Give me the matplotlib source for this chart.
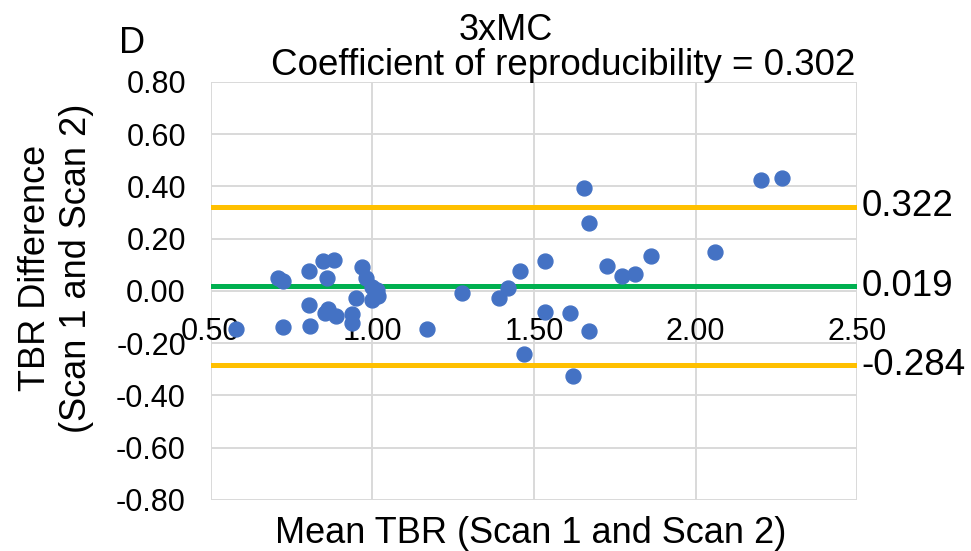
import numpy as np
import matplotlib
matplotlib.use("Agg")
import matplotlib.pyplot as plt
import matplotlib.transforms as mtransforms

plt.rcParams["font.family"] = ["Liberation Sans", "DejaVu Sans"]

BLUE, GREEN, GOLD, GRID = "#4472C4", "#00B050", "#FFC000", "#D9D9D9"

# Bland-Altman points
mean_tbr = [0.577, 0.708, 0.724, 0.722, 0.804, 0.803, 0.807, 0.848, 0.881, 0.860,
            0.861, 0.853, 0.887, 0.936, 0.936, 0.949, 0.967, 0.980, 0.997, 1.013,
            1.018, 0.997, 1.168, 1.276, 1.392, 1.419, 1.457, 1.534, 1.534, 1.469,
            1.611, 1.622, 1.655, 1.671, 1.671, 1.725, 1.771, 1.813, 1.861, 2.060,
            2.203, 2.267]
diff_tbr = [-0.147, 0.049, 0.037, -0.137, 0.078, -0.053, -0.133, 0.116, 0.120, 0.051,
            -0.070, -0.085, -0.097, -0.088, -0.122, -0.026, 0.090, 0.049, 0.017, 0.005,
            -0.021, -0.033, -0.145, -0.009, -0.028, 0.010, 0.077, 0.116, -0.079, -0.242,
            -0.085, -0.324, 0.393, 0.259, -0.152, 0.096, 0.058, 0.064, 0.135, 0.148,
            0.426, 0.432]

bias = 0.019
loa_upper, loa_lower = 0.322, -0.284
x_ticks = [0.50, 1.00, 1.50, 2.00, 2.50]
y_ticks = [-0.80, -0.60, -0.40, -0.20, 0.00, 0.20, 0.40, 0.60, 0.80]

fig = plt.figure(figsize=(9.71, 5.51), dpi=100)
ax = fig.add_axes([0.2173, 0.0926, 0.6653, 0.7586])

ax.set_xlim(0.5, 2.5)
ax.set_ylim(-0.8, 0.8)
ax.set_xticks(x_ticks)
ax.set_yticks(y_ticks)
ax.set_xticklabels([f"{v:.2f}" for v in x_ticks])
ax.set_yticklabels([f"{v:.2f}" for v in y_ticks])
ax.grid(True, color=GRID, lw=1.4, zorder=0)
ax.set_axisbelow(True)

# Excel style: value axis crosses at 0, labels hang under the zero line
for s in ["top", "right", "left"]:
    ax.spines[s].set_visible(False)
ax.spines["bottom"].set_position(("data", 0))
ax.spines["bottom"].set_visible(False)
ax.tick_params(axis="both", length=0, labelsize=22)
ax.tick_params(axis="x", pad=19)
ax.tick_params(axis="y", pad=18)

ax.axhline(loa_upper, color=GOLD, lw=3.6, zorder=2)
ax.axhline(loa_lower, color=GOLD, lw=3.6, zorder=2)
ax.axhline(bias, color=GREEN, lw=3.6, zorder=2)
ax.scatter(mean_tbr, diff_tbr, s=115, color=BLUE, zorder=3, clip_on=False)

trans = mtransforms.blended_transform_factory(ax.transAxes, ax.transData)
for v in [loa_upper, bias, loa_lower]:
    ax.text(1.007, v, f"{v:.3f}", transform=trans, ha="left", va="center", fontsize=26.5)

fig.text(0.0577, 0.5136, "TBR Difference\n(Scan 1 and Scan 2)", rotation=90,
         ha="center", va="center", multialignment="center", fontsize=26)
fig.text(0.547, 0.0145, "Mean TBR (Scan 1 and Scan 2)", ha="center", va="baseline", fontsize=26)

fig.text(0.1226, 0.9038, "D", ha="left", va="baseline", fontsize=26)
fig.text(0.5211, 0.9274, "3xMC", ha="center", va="baseline", fontsize=26)
fig.text(0.5798, 0.8639, "Coefficient of reproducibility = 0.302", ha="center", va="baseline", fontsize=26.5)

fig.savefig("out.png", dpi=100)
